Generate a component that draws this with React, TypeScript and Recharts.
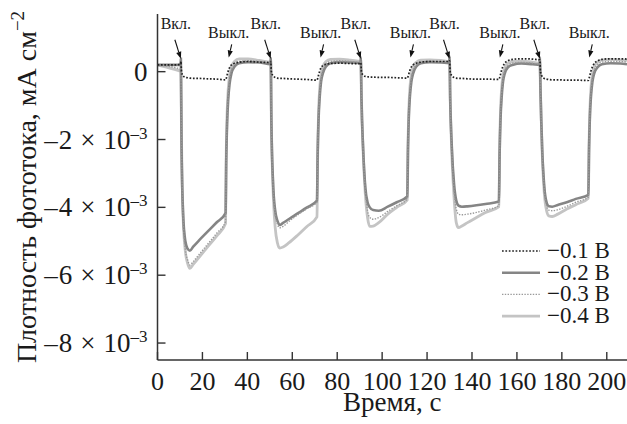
import React from 'react';
import { LineChart, Line, XAxis, YAxis, Legend, ReferenceDot } from 'recharts';

// time, s
const time = [
  0, 4, 8, 10.3,
  10.4, 10.7, 11.4, 12.4, 13.4, 14.4, 15.9, 18.4, 22.4, 26.4, 30.3,
  30.6, 31.0, 31.5, 32.1, 32.9, 34.3, 36.3, 40.3, 45.3, 50.3,
  50.4, 50.7, 51.4, 52.4, 53.4, 54.4, 55.9, 58.4, 62.4, 66.4, 71.0,
  71.3, 71.7, 72.2, 72.8, 73.6, 75.0, 77.0, 81.0, 86.0, 90.4,
  90.5, 90.8, 91.5, 92.5, 93.5, 94.5, 96.0, 98.5, 102.5, 106.5, 111.2,
  111.5, 111.9, 112.4, 113.0, 113.8, 115.2, 117.2, 121.2, 126.2, 129.9,
  130.0, 130.3, 131.0, 132.0, 133.0, 134.0, 135.5, 138.0, 142.0, 146.0, 152.0,
  152.3, 152.7, 153.2, 153.8, 154.6, 156.0, 158.0, 162.0, 167.0, 170.1,
  170.2, 170.5, 171.2, 172.2, 173.2, 174.2, 175.7, 178.2, 182.2, 186.2, 191.8,
  192.1, 192.5, 193.0, 193.6, 194.4, 195.8, 197.8, 201.8, 206.0, 209.0,
];

// photocurrent density, 10^-3 mA cm^-2
const j01 = [
  0.2, 0.2, 0.2, 0.22,
  0.3, 0.0, -0.12, -0.17, -0.18, -0.19, -0.2, -0.2, -0.21, -0.22, -0.24,
  -0.2, -0.1, 0.02, 0.12, 0.2, 0.25, 0.28, 0.3, 0.28, 0.27,
  0.3, 0.0, -0.12, -0.17, -0.19, -0.2, -0.2, -0.21, -0.22, -0.23, -0.25,
  -0.2, -0.1, 0.02, 0.12, 0.18, 0.22, 0.24, 0.25, 0.24, 0.24,
  0.26, 0.0, -0.1, -0.14, -0.15, -0.16, -0.16, -0.17, -0.17, -0.18, -0.19,
  -0.15, -0.06, 0.05, 0.14, 0.2, 0.25, 0.28, 0.3, 0.3, 0.3,
  0.32, 0.0, -0.12, -0.17, -0.19, -0.2, -0.2, -0.21, -0.22, -0.22, -0.23,
  -0.18, -0.08, 0.05, 0.16, 0.25, 0.32, 0.36, 0.38, 0.37, 0.35,
  0.35, 0.0, -0.14, -0.2, -0.22, -0.23, -0.24, -0.24, -0.25, -0.25, -0.26,
  -0.2, -0.1, 0.03, 0.14, 0.24, 0.31, 0.36, 0.38, 0.38, 0.37,
];

const j02 = [
  0.2, 0.2, 0.2, 0.2,
  0.38, -2.2, -4.2, -5.0, -5.22, -5.28, -5.16, -4.98, -4.71, -4.44, -4.17,
  -2.6, -1.5, -0.8, -0.35, -0.05, 0.15, 0.25, 0.28, 0.27, 0.22,
  0.4, -1.5, -3.2, -4.1, -4.4, -4.52, -4.46, -4.35, -4.18, -4.01, -3.8,
  -2.4, -1.4, -0.75, -0.3, -0.05, 0.15, 0.25, 0.28, 0.27, 0.25,
  0.42, -0.8, -2.2, -3.4, -3.85, -4.0, -4.08, -4.1, -3.98, -3.85, -3.68,
  -2.3, -1.3, -0.7, -0.3, -0.05, 0.15, 0.25, 0.28, 0.27, 0.25,
  0.45, -0.8, -2.2, -3.3, -3.8, -3.95, -3.98, -3.97, -3.94, -3.9, -3.83,
  -2.4, -1.4, -0.75, -0.3, -0.05, 0.13, 0.2, 0.24, 0.22, 0.2,
  0.42, -0.6, -2.2, -3.4, -3.85, -3.97, -3.98, -3.93, -3.85, -3.75, -3.63,
  -2.3, -1.3, -0.7, -0.3, -0.05, 0.12, 0.22, 0.25, 0.24, 0.22,
];

const j03 = [
  0.2, 0.17, 0.12, 0.08,
  0.1, -2.1, -4.3, -5.25, -5.55, -5.7, -5.6, -5.4, -5.08, -4.76, -4.42,
  -2.6, -1.4, -0.65, -0.22, 0.05, 0.22, 0.3, 0.32, 0.3, 0.26,
  0.28, -1.5, -3.3, -4.2, -4.5, -4.6, -4.56, -4.42, -4.22, -4.04, -3.85,
  -2.4, -1.3, -0.65, -0.22, 0.05, 0.22, 0.3, 0.32, 0.3, 0.27,
  0.3, -0.8, -2.25, -3.5, -4.1, -4.3, -4.35, -4.3, -4.12, -3.95, -3.75,
  -2.3, -1.2, -0.6, -0.2, 0.05, 0.2, 0.28, 0.3, 0.29, 0.27,
  0.32, -0.8, -2.3, -3.5, -4.05, -4.2, -4.22, -4.2, -4.15, -4.08, -3.95,
  -2.4, -1.3, -0.65, -0.22, 0.03, 0.18, 0.25, 0.27, 0.25, 0.22,
  0.3, -0.6, -2.25, -3.5, -3.95, -4.08, -4.1, -4.07, -3.97, -3.85, -3.7,
  -2.3, -1.2, -0.6, -0.2, 0.05, 0.2, 0.28, 0.3, 0.3, 0.28,
];

const j04 = [
  0.2, 0.13, 0.06, 0.02,
  0.05, -2.0, -4.3, -5.3, -5.65, -5.8, -5.68, -5.48, -5.16, -4.84, -4.48,
  -2.4, -1.2, -0.5, -0.1, 0.15, 0.3, 0.38, 0.38, 0.33, 0.28,
  0.3, -1.5, -3.4, -4.6, -5.05, -5.2, -5.17, -5.05, -4.82, -4.57, -4.28,
  -2.5, -1.2, -0.5, -0.1, 0.15, 0.3, 0.36, 0.37, 0.34, 0.3,
  0.32, -0.8, -2.3, -3.6, -4.3, -4.56, -4.55, -4.45, -4.2, -4.0, -3.78,
  -2.2, -1.1, -0.45, -0.08, 0.15, 0.28, 0.34, 0.35, 0.33, 0.3,
  0.32, -0.8, -2.4, -3.7, -4.45, -4.6, -4.55, -4.45, -4.3, -4.15, -3.98,
  -2.3, -1.15, -0.5, -0.1, 0.12, 0.25, 0.3, 0.31, 0.28, 0.25,
  0.3, -0.6, -2.3, -3.6, -4.1, -4.25, -4.27, -4.2, -4.05, -3.92, -3.73,
  -2.2, -1.1, -0.45, -0.08, 0.15, 0.28, 0.34, 0.36, 0.35, 0.33,
];

const seriesNames = ['−0.1 В', '−0.2 В', '−0.3 В', '−0.4 В'];
const xTicks = [0, 20, 40, 60, 80, 100, 120, 140, 160, 180, 200];
const yTicks = [0, -2, -4, -6, -8];
const onTimes = [10.4, 50.4, 90.5, 130.0, 170.2];
const offArrowTimes = [31.7, 72.6, 112.6, 152.4, 192.2];
const onLabel = 'Вкл.';
const offLabel = 'Выкл.';

const data = time.map((t, i) => ({ t, a: j01[i], b: j02[i], c: j03[i], d: j04[i] }));

const FONT = '"Liberation Serif", "Times New Roman", serif';
const AXIS = '#333';
const TXT = '#1a1a1a';

const styles = [
  { key: 'a', stroke: '#222', width: 1.7, dash: '1.7 1.7' },
  { key: 'b', stroke: '#858585', width: 2.6, dash: undefined },
  { key: 'c', stroke: '#9a9a9a', width: 1.4, dash: '1.4 1.4' },
  { key: 'd', stroke: '#c4c4c4', width: 2.8, dash: undefined },
];

const XTick = (props: any) => {
  const { x, y, payload } = props;
  return (
    <g>
      <line x1={x} x2={x} y1={y} y2={y - 8} stroke={AXIS} strokeWidth={1.4} />
      <text x={x} y={y + 30} textAnchor="middle" fontFamily={FONT} fontSize={26} fill={TXT}>
        {payload.value}
      </text>
    </g>
  );
};

const YTick = (props: any) => {
  const { x, y, payload } = props;
  const v = payload.value;
  return (
    <g>
      <line x1={x} x2={x + 8} y1={y} y2={y} stroke={AXIS} strokeWidth={1.4} />
      <text x={x - 10} y={y + 9} textAnchor="end" fontFamily={FONT} fontSize={27} fill={TXT}>
        {v === 0 ? (
          '0'
        ) : (
          <>
            <tspan>–</tspan>
            <tspan dx={1}>{`${Math.abs(v)}`}</tspan>
            <tspan dx={8}>×</tspan>
            <tspan dx={8}>10</tspan>
            <tspan dy={-10} fontSize={17}>–3</tspan>
          </>
        )}
      </text>
    </g>
  );
};

const YTitle = (props: any) => {
  const vb = props.viewBox || {};
  const cx = 36;
  const cy = (vb.y ?? 14) + (vb.height ?? 346) / 2;
  return (
    <text
      x={cx}
      y={cy}
      transform={`rotate(-90, ${cx}, ${cy})`}
      textAnchor="middle"
      fontFamily={FONT}
      fontSize={28}
      fill={TXT}
    >
      Плотность фототока, мА см
      <tspan dy={-12} fontSize={19}>−2</tspan>
    </text>
  );
};

const XTitle = (props: any) => {
  const vb = props.viewBox || {};
  const cx = (vb.x ?? 157.5) + (vb.width ?? 469.5) / 2;
  return (
    <text x={cx} y={411} textAnchor="middle" fontFamily={FONT} fontSize={27} fill={TXT}>
      Время, с
    </text>
  );
};

const makeArrow = (label: string, kind: 'on' | 'off') => (props: any) => {
  const { cx, cy } = props;
  if (cx == null || cy == null) return <g />;
  const tail = kind === 'on' ? { x: cx - 6, y: cy - 19 } : { x: cx + 3, y: cy - 13 };
  const dx = cx - tail.x;
  const dy = cy - tail.y;
  const len = Math.sqrt(dx * dx + dy * dy);
  const ux = dx / len;
  const uy = dy / len;
  const hl = 7;
  const hw = 2.6;
  const bx = cx - ux * hl;
  const by = cy - uy * hl;
  const pts = `${cx},${cy} ${bx - uy * hw},${by + ux * hw} ${bx + uy * hw},${by - ux * hw}`;
  const textY = kind === 'on' ? cy - 30 : cy - 19;
  const textX = kind === 'on' ? cx - 5 : cx;
  return (
    <g>
      <line x1={tail.x} y1={tail.y} x2={bx} y2={by} stroke="#111" strokeWidth={1.1} />
      <polygon points={pts} fill="#111" />
      <text x={textX} y={textY} textAnchor="middle" fontFamily={FONT} fontSize={16} fill={TXT}>
        {label}
      </text>
    </g>
  );
};

const LegendBox = () => (
  <svg width={132} height={92} style={{ display: 'block' }}>
    {seriesNames.map((name, i) => {
      const s = styles[i];
      const cy = 13 + i * 21.7;
      return (
        <g key={name}>
          <line
            x1={7}
            x2={45}
            y1={cy}
            y2={cy}
            stroke={s.stroke}
            strokeWidth={s.width}
            strokeDasharray={s.dash}
          />
          <text x={52} y={cy + 7} fontFamily={FONT} fontSize={23} fill={TXT}>
            {name}
          </text>
        </g>
      );
    })}
  </svg>
);

export default function App() {
  const order = [3, 1, 2, 0];
  return (
    <div style={{ position: 'absolute', left: 0, top: 0, width: 627, height: 424, background: '#fff' }}>
      <LineChart width={627} height={424} data={data} margin={{ top: 14, right: 0, bottom: 0, left: 0 }}>
        <XAxis
          dataKey="t"
          type="number"
          domain={[0, 209]}
          ticks={xTicks}
          allowDataOverflow
          height={64}
          tickSize={0}
          tickMargin={0}
          tickLine={false}
          tick={<XTick />}
          axisLine={{ stroke: AXIS, strokeWidth: 1.5 }}
          label={<XTitle />}
          interval={0}
        />
        <YAxis
          type="number"
          domain={[-8.5, 1.7]}
          ticks={yTicks}
          allowDataOverflow
          width={157.5}
          tickSize={0}
          tickMargin={0}
          tickLine={false}
          tick={<YTick />}
          axisLine={{ stroke: AXIS, strokeWidth: 1.5 }}
          label={<YTitle />}
          interval={0}
        />
        {order.map((i) => {
          const s = styles[i];
          return (
            <Line
              key={s.key}
              dataKey={s.key}
              name={seriesNames[i]}
              type="monotone"
              stroke={s.stroke}
              strokeWidth={s.width}
              strokeDasharray={s.dash}
              dot={false}
              activeDot={false}
              isAnimationActive={false}
            />
          );
        })}
        {onTimes.map((t) => (
          <ReferenceDot key={`on${t}`} x={t} y={0.38} r={0} ifOverflow="visible" shape={makeArrow(onLabel, 'on')} />
        ))}
        {offArrowTimes.map((t) => (
          <ReferenceDot key={`off${t}`} x={t} y={0.42} r={0} ifOverflow="visible" shape={makeArrow(offLabel, 'off')} />
        ))}
        <Legend
          layout="horizontal"
          verticalAlign="middle"
          align="center"
          content={() => <LegendBox />}
          wrapperStyle={{ position: 'absolute', left: 495, top: 238, width: 132, height: 92 }}
        />
      </LineChart>
    </div>
  );
}
